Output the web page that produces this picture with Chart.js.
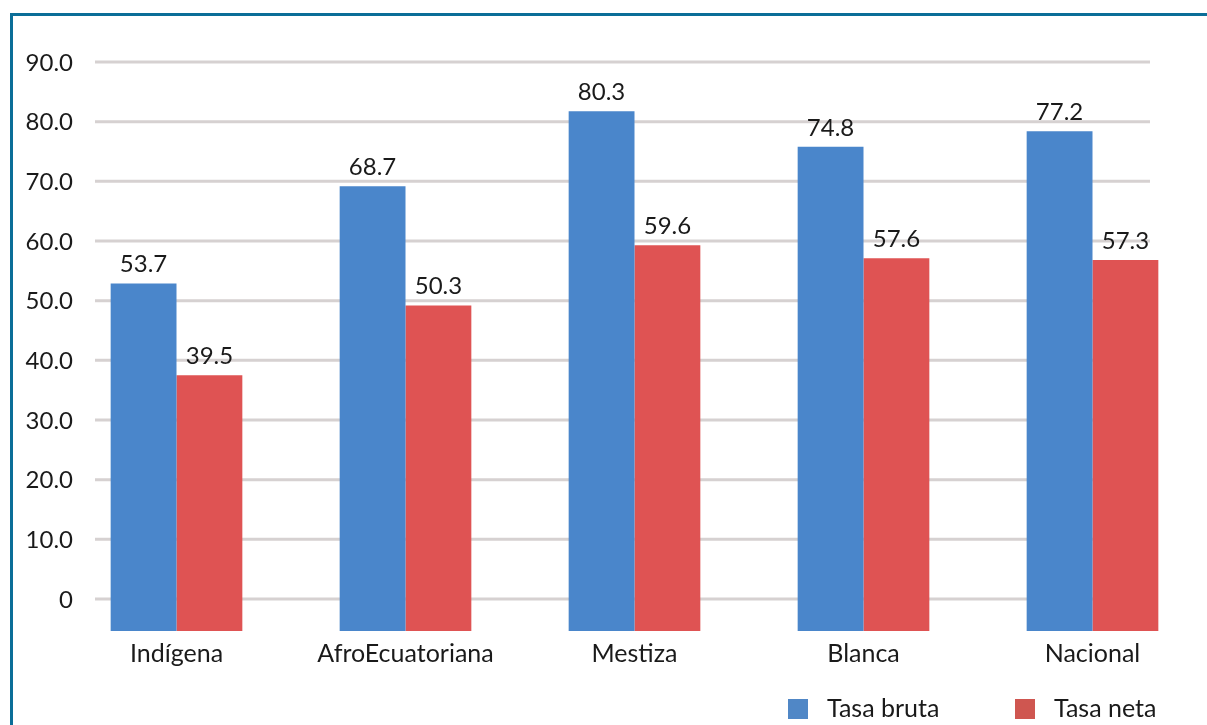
<!DOCTYPE html>
<html>
<head>
<meta charset="utf-8">
<script src="https://cdn.jsdelivr.net/npm/chart.js@4.4.1/dist/chart.umd.min.js"></script>
<style>
  html, body { margin: 0; padding: 0; background: #fff; overflow: hidden; }
  #wrap { position: relative; width: 1207px; height: 725px; }
  #frame { position: absolute; left: 10px; top: 13px; width: 1230px; height: 740px; border: 3px solid #0b6e98; box-sizing: border-box; pointer-events: none; }
  canvas { position: absolute; left: 0; top: 0; }
</style>
</head>
<body>
<div id="wrap">
  <canvas id="c" width="1207" height="725"></canvas>
  <div id="frame"></div>
</div>
<script>
const categories = ['Indígena', 'AfroEcuatoriana', 'Mestiza', 'Blanca', 'Nacional'];
const tasaBruta = [53.7, 68.7, 80.3, 74.8, 77.2];
const tasaNeta = [39.5, 50.3, 59.6, 57.6, 57.3];
const seriesNames = ['Tasa bruta', 'Tasa neta'];
const yTicks = [0, 10, 20, 30, 40, 50, 60, 70, 80, 90];

const FONT = 'Lato, "Open Sans", sans-serif';
const BLUE = '#4a86cb';
const RED = '#df5353';
const TEXT = '#1a1a1a';

const gridPlugin = {
  id: 'customGrid',
  beforeDatasetsDraw(chart) {
    const ctx = chart.ctx, y = chart.scales.y;
    ctx.save();
    ctx.strokeStyle = '#d6d1d1';
    ctx.lineWidth = 3;
    y.ticks.forEach(t => {
      const py = y.getPixelForValue(t.value);
      ctx.beginPath();
      ctx.moveTo(95, py);
      ctx.lineTo(1150, py);
      ctx.stroke();
    });
    // y tick labels
    ctx.font = '24px ' + FONT;
    ctx.fillStyle = TEXT;
    ctx.textAlign = 'right';
    ctx.textBaseline = 'middle';
    y.ticks.forEach(t => {
      const py = y.getPixelForValue(t.value);
      ctx.fillText(t.value === 0 ? '0' : t.value.toFixed(1), 73, py + 1);
    });
    ctx.restore();
  },
  afterDatasetsDraw(chart) {
    const ctx = chart.ctx;
    ctx.save();
    ctx.font = '24px ' + FONT;
    ctx.fillStyle = TEXT;
    ctx.textAlign = 'center';
    ctx.textBaseline = 'alphabetic';
    chart.data.datasets.forEach((ds, di) => {
      chart.getDatasetMeta(di).data.forEach((bar, i) => {
        ctx.fillText(ds.data[i].toFixed(1), bar.x, bar.y - 11);
      });
    });
    // legend
    const items = [
      { text: seriesNames[0], color: '#5087c6', bx: 788 },
      { text: seriesNames[1], color: '#cf5650', bx: 1015 }
    ];
    ctx.font = '25px ' + FONT;
    ctx.textAlign = 'left';
    ctx.textBaseline = 'middle';
    items.forEach(it => {
      ctx.fillStyle = it.color;
      ctx.fillRect(it.bx, 699, 20, 20);
      ctx.fillStyle = TEXT;
      ctx.fillText(it.text, it.bx + 39, 709);
    });
    ctx.restore();
  }
};

new Chart(document.getElementById('c'), {
  type: 'bar',
  data: {
    labels: categories,
    datasets: [
      { label: seriesNames[0], data: tasaBruta, backgroundColor: BLUE, yAxisID: 'yb' },
      { label: seriesNames[1], data: tasaNeta, backgroundColor: RED, yAxisID: 'yb' }
    ]
  },
  options: {
    responsive: false,
    animation: false,
    layout: { padding: { top: 62, right: 0, bottom: 56, left: 0 } },
    datasets: { bar: { categoryPercentage: 0.575, barPercentage: 1.0 } },
    plugins: { legend: { display: false }, tooltip: { enabled: false } },
    scales: {
      x: {
        grid: { display: false },
        border: { display: false },
        ticks: { color: TEXT, font: { family: FONT, size: 25 }, padding: 0 }
      },
      y: {
        min: -5.37,
        max: 90,
        grid: { display: false, drawTicks: false },
        border: { display: false },
        afterFit(scale) { scale.width = 62; },
        afterBuildTicks(scale) { scale.ticks = yTicks.map(v => ({ value: v })); },
        ticks: { display: false }
      },
      yb: {
        position: 'right',
        display: false,
        min: 0,
        max: 87.9
      }
    }
  },
  plugins: [gridPlugin]
});
</script>
</body>
</html>
